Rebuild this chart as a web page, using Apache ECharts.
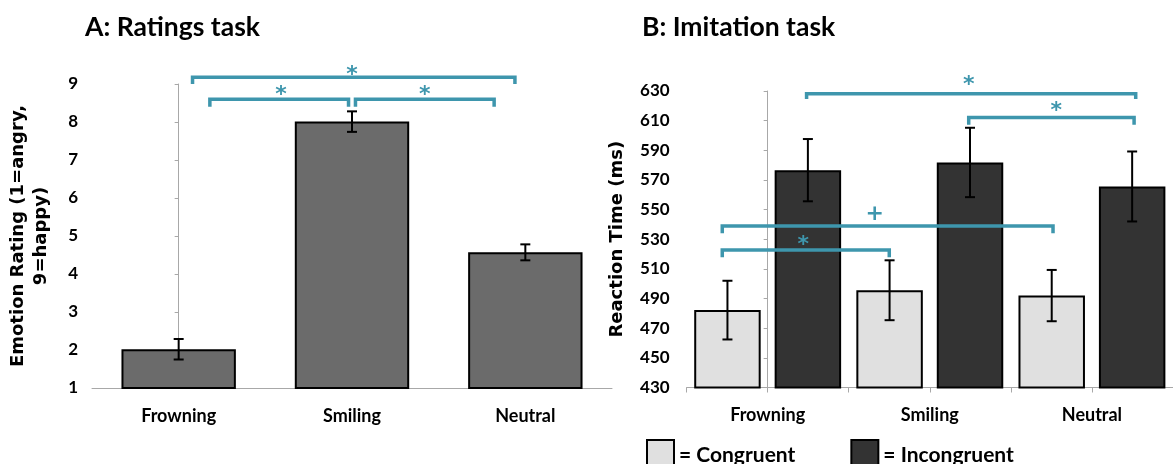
<!DOCTYPE html>
<html>
<head>
<meta charset="utf-8">
<script src="https://cdn.jsdelivr.net/npm/echarts@6/dist/echarts.min.js"></script>
<style>html,body{margin:0;padding:0;background:#fff}#chart{width:1173px;height:464px}</style>
</head>
<body>
<div id="chart"></div>
<script>
var myChart = echarts.init(document.getElementById('chart'));

// 数据
var categories = ['Frowning', 'Smiling', 'Neutral'];
var ratingMean = [2.02, 8.01, 4.57];
var ratingErr = [0.27, 0.27, 0.21];
var ratingRange = [1, 9, 1];          // min, max, step
var congruentMean = [482.2, 495.6, 492];
var congruentErr = [19.8, 20.2, 17.3];
var incongruentMean = [576.6, 581.8, 565.6];
var incongruentErr = [21, 23.4, 23.6];
var rtRange = [430, 630, 20];

// 显著性标记: [x1, x2, 横线y, 竖脚y, 标记x, 标记y] (x 为类目序号)
var ratingBrackets = [
    [0.08, 1.94, 9.18, 9.0, 1.0, 9.40],
    [0.18, 0.98, 8.60, 8.40, 0.59, 8.86],
    [1.02, 1.82, 8.60, 8.40, 1.42, 8.86]
];
var ratingMarks = ['*', '*', '*'];
var rtBrackets = [
    [0.24, 2.27, 628.2, 624.6, 1.24, 637.6],
    [1.24, 2.26, 612.2, 607.3, 1.78, 620.3],
    [-0.28, 1.76, 539.0, 534.1, 0.66, 547.1],
    [-0.28, 0.75, 522.8, 517.8, 0.22, 530.0]
];
var rtMarks = ['*', '*', '+', '*'];

var teal = '#3e96ad';
var axisGray = '#a8a8a8';

function bracketRender(marks) {
    return function (params, api) {
        var p1 = api.coord([api.value(0), api.value(2)]);
        var p2 = api.coord([api.value(1), api.value(2)]);
        var foot = api.coord([api.value(0), api.value(3)])[1];
        var m = api.coord([api.value(4), api.value(5)]);
        var mark = marks[params.dataIndex];
        // 星号字形偏上, 往下挪一点
        var dy = mark === '*' ? 6 : 0;
        return {
            type: 'group',
            children: [{
                type: 'polyline',
                shape: { points: [[p1[0], foot], p1, p2, [p2[0], foot]] },
                style: { stroke: teal, lineWidth: 3.5, fill: null, lineJoin: 'miter', lineCap: 'butt' }
            }, {
                type: 'text',
                x: m[0], y: m[1] + dy,
                style: {
                    text: mark, fill: teal,
                    font: 'bold 22px "DejaVu Sans"', align: 'center', verticalAlign: 'middle'
                }
            }]
        };
    };
}

// 误差线, shift 为相对类目宽度的偏移
function errRender(means, errs, shift) {
    return function (params, api) {
        var i = params.dataIndex;
        var band = api.size([1, 0])[0];
        var x = api.coord([i, means[i]])[0] + shift * band;
        var hi = api.coord([i, means[i] + errs[i]])[1];
        var lo = api.coord([i, means[i] - errs[i]])[1];
        var st = { stroke: '#000', lineWidth: 2 };
        return {
            type: 'group',
            children: [
                { type: 'line', shape: { x1: x, y1: hi, x2: x, y2: lo }, style: st },
                { type: 'line', shape: { x1: x - 5, y1: hi, x2: x + 5, y2: hi }, style: st },
                { type: 'line', shape: { x1: x - 5, y1: lo, x2: x + 5, y2: lo }, style: st }
            ]
        };
    };
}

function idxData(means) {
    return means.map(function (v, i) { return [i, v]; });
}

var barW = 0.41, barGap = 0.21;
var shift = barW * (1 + barGap) / 2;

var tickStyle = { color: '#000', fontWeight: 'bold', fontSize: 17 };
var catStyle = { color: '#000', fontWeight: 'bold', fontSize: 18 };
var nameStyle = { fontFamily: 'DejaVu Sans', fontSize: 18, fontWeight: 'bold', color: '#000', lineHeight: 23 };

option = {
    animation: false,
    textStyle: { fontFamily: 'Lato' },
    title: [
        { text: 'A: Ratings task', left: 80, top: 9, textStyle: { fontSize: 26.5, fontWeight: 'bold', color: '#000' } },
        { text: 'B: Imitation task', left: 637, top: 9, textStyle: { fontSize: 26.5, fontWeight: 'bold', color: '#000' } }
    ],
    legend: {
        data: ['Congruent', 'Incongruent'],
        left: 646, top: 439, padding: 0,
        itemWidth: 27, itemHeight: 30, itemGap: 55,
        icon: 'rect', selectedMode: false,
        formatter: '= {name}',
        itemStyle: { borderColor: '#000', borderWidth: 2 },
        textStyle: { fontSize: 21, fontWeight: 'bold', color: '#000' }
    },
    grid: [
        { left: 92, top: 84, width: 520, height: 304 },
        { left: 686.6, top: 91, width: 491.4, height: 296.5 }
    ],
    xAxis: [
        {
            gridIndex: 0, type: 'category', data: categories,
            axisLine: { lineStyle: { color: axisGray } },
            axisTick: { length: 5, interval: 0, lineStyle: { color: axisGray } },
            axisLabel: Object.assign({ margin: 19 }, catStyle)
        },
        { gridIndex: 0, type: 'value', min: -0.5, max: 2.5, show: false },
        {
            gridIndex: 1, type: 'category', data: categories,
            axisLine: { lineStyle: { color: axisGray } },
            axisTick: { show: false },
            axisLabel: Object.assign({ margin: 19 }, catStyle)
        },
        {
            // 只画刻度
            gridIndex: 1, type: 'value', min: -0.5, max: 2.5, interval: 0.5, position: 'bottom',
            axisLine: { show: false },
            axisTick: { show: true, length: 5, lineStyle: { color: axisGray } },
            axisLabel: { show: false },
            splitLine: { show: false }
        }
    ],
    yAxis: [
        {
            gridIndex: 0, type: 'value',
            min: ratingRange[0], max: ratingRange[1], interval: ratingRange[2],
            splitLine: { show: false },
            axisLine: { show: true, lineStyle: { color: axisGray } },
            axisTick: { show: true, length: 4, lineStyle: { color: axisGray } },
            axisLabel: Object.assign({ margin: 14 }, tickStyle),
            name: 'Emotion Rating (1=angry,\n9=happy)',
            nameLocation: 'middle', nameGap: 39,
            nameTextStyle: nameStyle
        },
        {
            gridIndex: 1, type: 'value',
            min: rtRange[0], max: rtRange[1], interval: rtRange[2],
            splitLine: { show: false },
            axisLine: { show: true, lineStyle: { color: axisGray } },
            axisTick: { show: true, length: 4, lineStyle: { color: axisGray } },
            axisLabel: Object.assign({ margin: 17 }, tickStyle),
            name: 'Reaction Time (ms)',
            nameLocation: 'middle', nameGap: 58,
            nameTextStyle: nameStyle
        }
    ],
    series: [
        {
            name: 'Ratings', type: 'bar', xAxisIndex: 0, yAxisIndex: 0,
            data: ratingMean, barWidth: '66%',
            itemStyle: { color: '#6b6b6b', borderColor: '#000', borderWidth: 2 }
        },
        {
            name: 'ratings-err', type: 'custom', xAxisIndex: 0, yAxisIndex: 0,
            data: idxData(ratingMean), renderItem: errRender(ratingMean, ratingErr, 0), z: 5
        },
        {
            name: 'Congruent', type: 'bar', xAxisIndex: 2, yAxisIndex: 1,
            data: congruentMean, barWidth: (barW * 100) + '%', barGap: (barGap * 100) + '%',
            itemStyle: { color: '#e0e0e0', borderColor: '#000', borderWidth: 2 }
        },
        {
            name: 'Incongruent', type: 'bar', xAxisIndex: 2, yAxisIndex: 1,
            data: incongruentMean, barWidth: (barW * 100) + '%', barGap: (barGap * 100) + '%',
            itemStyle: { color: '#333333', borderColor: '#000', borderWidth: 2 }
        },
        {
            name: 'congruent-err', type: 'custom', xAxisIndex: 2, yAxisIndex: 1,
            data: idxData(congruentMean), renderItem: errRender(congruentMean, congruentErr, -shift), z: 5
        },
        {
            name: 'incongruent-err', type: 'custom', xAxisIndex: 2, yAxisIndex: 1,
            data: idxData(incongruentMean), renderItem: errRender(incongruentMean, incongruentErr, shift), z: 5
        },
        {
            name: 'ratings-sig', type: 'custom', xAxisIndex: 1, yAxisIndex: 0,
            data: ratingBrackets, renderItem: bracketRender(ratingMarks), z: 6
        },
        {
            name: 'rt-sig', type: 'custom', xAxisIndex: 3, yAxisIndex: 1,
            data: rtBrackets, renderItem: bracketRender(rtMarks), z: 6
        }
    ]
};

myChart.setOption(option);
</script>
</body>
</html>
